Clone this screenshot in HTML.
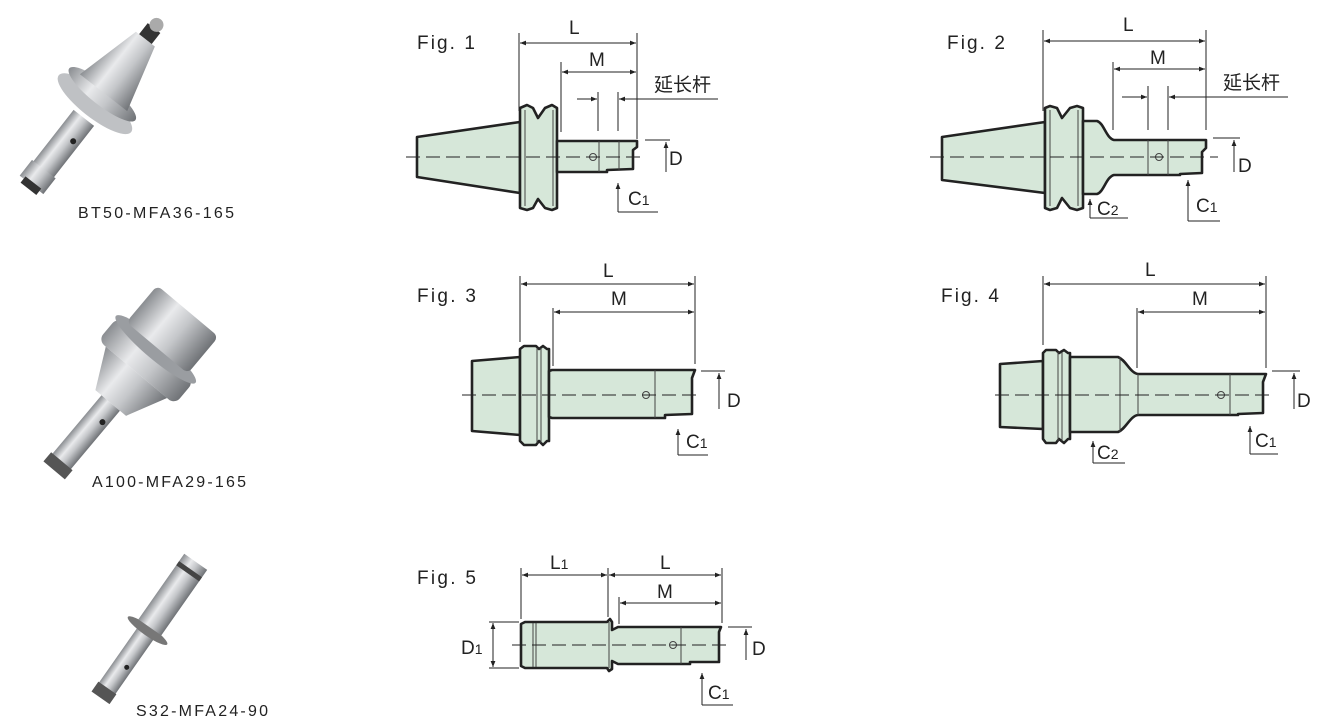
<!DOCTYPE html>
<html><head><meta charset="utf-8"><style>
html,body{margin:0;padding:0;background:#fff;}
svg{display:block;}
text{font-family:"Liberation Sans","Noto Sans CJK SC",sans-serif;fill:#222;}
</style></head><body>
<svg width="1318" height="722" viewBox="0 0 1318 722" xmlns="http://www.w3.org/2000/svg">
<defs>
<marker id="a" viewBox="0 0 10 10" refX="10" refY="5" markerWidth="9" markerHeight="6" orient="auto-start-reverse" markerUnits="userSpaceOnUse"><path d="M0,1 L10,5 L0,9 Z" fill="#222"/></marker>
<linearGradient id="m" x1="0" y1="0" x2="0" y2="1"><stop offset="0" stop-color="#8a8d91"/><stop offset=".35" stop-color="#e9eaec"/><stop offset=".6" stop-color="#c4c6c9"/><stop offset="1" stop-color="#6f7276"/></linearGradient>
</defs>
<g stroke="none">
<!-- photo 1 -->
<g transform="rotate(-52 90 110)">
<rect x="10" y="97" width="70" height="26" fill="url(#m)"/>
<rect x="-5" y="95" width="20" height="30" fill="url(#m)"/>
<rect x="-10" y="100" width="8" height="20" fill="#333"/>
<ellipse cx="98" cy="110" rx="14" ry="46" fill="#bfc1c4"/>
<ellipse cx="110" cy="110" rx="11" ry="42" fill="url(#m)"/>
<polygon points="112,80 180,98 180,122 112,140" fill="url(#m)"/>
<rect x="180" y="102" width="14" height="16" fill="#333"/>
<circle cx="198" cy="110" r="7" fill="#aaa"/>
<circle cx="55" cy="116" r="3" fill="#222"/>
</g>
<!-- photo 2 -->
<g transform="rotate(-50 130 380)">
<rect x="20" y="368" width="80" height="24" fill="url(#m)"/>
<rect x="12" y="366" width="12" height="28" fill="#555"/>
<polygon points="100,360 140,340 140,420 100,400" fill="url(#m)"/>
<rect x="140" y="330" width="30" height="100" rx="8" fill="url(#m)"/>
<ellipse cx="170" cy="380" rx="10" ry="52" fill="#9a9da1"/>
<rect x="172" y="340" width="48" height="80" rx="6" fill="url(#m)"/>
<circle cx="80" cy="386" r="3" fill="#222"/>
</g>
<!-- photo 3 -->
<g transform="rotate(-55 155 620)">
<rect x="70" y="610" width="70" height="20" fill="url(#m)"/>
<rect x="60" y="609" width="12" height="22" fill="#555"/>
<ellipse cx="142" cy="620" rx="5" ry="24" fill="#777"/>
<rect x="146" y="606" width="80" height="28" fill="url(#m)"/>
<rect x="212" y="606" width="5" height="28" fill="#444"/>
<circle cx="100" cy="624" r="2.5" fill="#222"/>
</g>
</g>
<g font-size="16">
<text x="78" y="218" textLength="156" lengthAdjust="spacing">BT50-MFA36-165</text>
<text x="92" y="487" textLength="154" lengthAdjust="spacing">A100-MFA29-165</text>
<text x="136" y="716" textLength="132" lengthAdjust="spacing">S32-MFA24-90</text>
</g>

<g fill="#d6e7d9" stroke="#222" stroke-width="2.6" stroke-linejoin="round">
<!-- Fig1 -->
<path d="M417,137 L520,122 L520,193 L417,177 Z"/>
<path d="M520,108 L527,105 L533,108 L538,118 L545,108 L552,105 L557,108 L557,208 L552,210 L545,208 L538,199 L533,208 L527,210 L520,208 Z"/>
<path d="M557,141 L637,141 L637,147 L633,150 L633,169 L607,170 L607,172 L557,172 Z"/>
<!-- Fig2 -->
<path d="M942,137 L1045,122 L1045,193 L942,180 Z"/>
<path d="M1045,108 L1050,106 L1057,108 L1062,118 L1070,108 L1077,106 L1083,108 L1083,208 L1077,210 L1070,208 L1062,198 L1057,208 L1050,210 L1045,208 Z"/>
<path d="M1083,121 L1097,121 C1104,123 1106,138 1114,140 L1206,140 L1206,148 L1202,152 L1202,173 L1180,174 L1180,175 L1114,175 C1106,177 1104,192 1097,194 L1083,194 Z"/>
<!-- Fig3 -->
<path d="M472,361 L520,357 L520,435 L472,431 Z"/>
<path d="M520,349 L524,346 L536,346 L539,349 L543,346 L547,349 L549,349 L549,441 L547,441 L543,445 L539,441 L536,445 L524,445 L520,441 Z"/>
<path d="M549,371 L552,370 L695,370 L692,378 L692,414 L665,415 L665,418 L552,418 L549,417 Z"/>
<!-- Fig4 -->
<path d="M1000,364 L1043,361 L1043,429 L1000,427 Z"/>
<path d="M1043,353 L1046,350 L1056,350 L1059,353 L1064,350 L1068,353 L1070,353 L1070,439 L1068,439 L1064,443 L1059,439 L1056,443 L1046,443 L1043,439 Z"/>
<path d="M1070,357 L1118,357 C1126,360 1130,373 1138,374 L1266,374 L1263,382 L1263,413 L1238,414 L1238,415 L1138,415 C1130,416 1126,429 1118,432 L1070,432 Z"/>
<!-- Fig5 -->
<path d="M521,624 L525,622 L607,622 L610,619 L612,622 L612,630 L618,627 L721,627 L719,632 L719,662 L690,662 L690,664 L618,664 L612,661 L612,669 L609,671 L607,668 L525,668 L521,666 Z"/>
</g>

<!-- inner lines -->
<g stroke="#444" stroke-width="1" fill="none">
<line x1="525" y1="110" x2="525" y2="206"/><line x1="553" y1="110" x2="553" y2="206"/>
<line x1="599" y1="141" x2="599" y2="172"/><line x1="619" y1="141" x2="619" y2="170"/>
<line x1="1050" y1="110" x2="1050" y2="206"/><line x1="1078" y1="110" x2="1078" y2="206"/>
<line x1="1148" y1="140" x2="1148" y2="175"/><line x1="1168" y1="140" x2="1168" y2="175"/>
<line x1="537" y1="348" x2="537" y2="443"/><line x1="541" y1="348" x2="541" y2="443"/><line x1="655" y1="370" x2="655" y2="418"/>
<line x1="1058" y1="352" x2="1058" y2="441"/><line x1="1062" y1="352" x2="1062" y2="441"/><line x1="1120" y1="357" x2="1120" y2="432"/><line x1="1138" y1="374" x2="1138" y2="415"/><line x1="1230" y1="374" x2="1230" y2="415"/>
<line x1="533" y1="623" x2="533" y2="667"/><line x1="536" y1="623" x2="536" y2="667"/><line x1="609" y1="622" x2="609" y2="668"/><line x1="681" y1="627" x2="681" y2="664"/>
<circle cx="593" cy="157" r="3.5"/><line x1="589" y1="157" x2="597" y2="157"/>
<circle cx="1159" cy="157" r="3.5"/><line x1="1155" y1="157" x2="1163" y2="157"/>
<circle cx="646" cy="395" r="3.5"/><line x1="642" y1="395" x2="650" y2="395"/>
<circle cx="1221" cy="395" r="3.5"/><line x1="1217" y1="395" x2="1225" y2="395"/>
<circle cx="673" cy="645" r="3.5"/><line x1="669" y1="645" x2="677" y2="645"/>
</g>

<!-- centerlines -->
<g stroke="#222" stroke-width="1" stroke-dasharray="14,6" fill="none">
<line x1="406" y1="157" x2="645" y2="157"/>
<line x1="930" y1="157" x2="1218" y2="157"/>
<line x1="462" y1="395" x2="700" y2="395"/>
<line x1="995" y1="395" x2="1272" y2="395"/>
<line x1="512" y1="645" x2="728" y2="645"/>
</g>

<!-- dimension lines -->
<g stroke="#222" stroke-width="1" fill="none">
<line x1="519" y1="33" x2="519" y2="111"/><line x1="637" y1="33" x2="637" y2="139"/><line x1="561" y1="62" x2="561" y2="132"/>
<line x1="598" y1="92" x2="598" y2="131"/><line x1="618" y1="92" x2="618" y2="131"/>
<line x1="520" y1="43" x2="636" y2="43" marker-start="url(#a)" marker-end="url(#a)"/>
<line x1="562" y1="72" x2="636" y2="72" marker-start="url(#a)" marker-end="url(#a)"/>
<line x1="577" y1="99" x2="597" y2="99" marker-end="url(#a)"/><line x1="718" y1="99" x2="619" y2="99" marker-end="url(#a)"/>
<line x1="645" y1="140" x2="670" y2="140"/><line x1="666" y1="172" x2="666" y2="142" marker-end="url(#a)"/>
<line x1="618" y1="212" x2="618" y2="183" marker-end="url(#a)"/><line x1="618" y1="212" x2="658" y2="212"/>
<line x1="1043" y1="30" x2="1043" y2="111"/><line x1="1206" y1="30" x2="1206" y2="130"/><line x1="1113" y1="62" x2="1113" y2="130"/>
<line x1="1148" y1="86" x2="1148" y2="130"/><line x1="1168" y1="86" x2="1168" y2="130"/>
<line x1="1044" y1="41" x2="1205" y2="41" marker-start="url(#a)" marker-end="url(#a)"/>
<line x1="1114" y1="69" x2="1205" y2="69" marker-start="url(#a)" marker-end="url(#a)"/>
<line x1="1122" y1="97" x2="1147" y2="97" marker-end="url(#a)"/><line x1="1288" y1="97" x2="1169" y2="97" marker-end="url(#a)"/>
<line x1="1213" y1="138" x2="1240" y2="138"/><line x1="1234" y1="172" x2="1234" y2="140" marker-end="url(#a)"/>
<line x1="1090" y1="218" x2="1090" y2="199" marker-end="url(#a)"/><line x1="1090" y1="218" x2="1128" y2="218"/>
<line x1="1188" y1="221" x2="1188" y2="180" marker-end="url(#a)"/><line x1="1188" y1="221" x2="1220" y2="221"/>
<line x1="520" y1="276" x2="520" y2="342"/><line x1="695" y1="276" x2="695" y2="364"/><line x1="553" y1="308" x2="553" y2="366"/>
<line x1="521" y1="284" x2="694" y2="284" marker-start="url(#a)" marker-end="url(#a)"/>
<line x1="554" y1="312" x2="694" y2="312" marker-start="url(#a)" marker-end="url(#a)"/>
<line x1="701" y1="371" x2="725" y2="371"/><line x1="719" y1="409" x2="719" y2="373" marker-end="url(#a)"/>
<line x1="678" y1="455" x2="678" y2="429" marker-end="url(#a)"/><line x1="678" y1="455" x2="708" y2="455"/>
<line x1="1043" y1="276" x2="1043" y2="345"/><line x1="1266" y1="276" x2="1266" y2="368"/><line x1="1137" y1="308" x2="1137" y2="368"/>
<line x1="1044" y1="284" x2="1265" y2="284" marker-start="url(#a)" marker-end="url(#a)"/>
<line x1="1138" y1="312" x2="1265" y2="312" marker-start="url(#a)" marker-end="url(#a)"/>
<line x1="1272" y1="371" x2="1300" y2="371"/><line x1="1294" y1="409" x2="1294" y2="373" marker-end="url(#a)"/>
<line x1="1093" y1="463" x2="1093" y2="441" marker-end="url(#a)"/><line x1="1093" y1="463" x2="1125" y2="463"/>
<line x1="1250" y1="454" x2="1250" y2="426" marker-end="url(#a)"/><line x1="1250" y1="454" x2="1278" y2="454"/>
<line x1="521" y1="568" x2="521" y2="619"/><line x1="608" y1="568" x2="608" y2="617"/><line x1="722" y1="568" x2="722" y2="623"/><line x1="619" y1="597" x2="619" y2="624"/>
<line x1="522" y1="575" x2="607" y2="575" marker-start="url(#a)" marker-end="url(#a)"/>
<line x1="609" y1="575" x2="721" y2="575" marker-start="url(#a)" marker-end="url(#a)"/>
<line x1="620" y1="603" x2="721" y2="603" marker-start="url(#a)" marker-end="url(#a)"/>
<line x1="489" y1="622" x2="519" y2="622"/><line x1="489" y1="668" x2="519" y2="668"/>
<line x1="493" y1="623" x2="493" y2="667" marker-start="url(#a)" marker-end="url(#a)"/>
<line x1="728" y1="627" x2="752" y2="627"/><line x1="746" y1="660" x2="746" y2="629" marker-end="url(#a)"/>
<line x1="702" y1="705" x2="702" y2="673" marker-end="url(#a)"/><line x1="702" y1="705" x2="733" y2="705"/>
</g>

<!-- labels -->
<g font-size="19">
<text x="417" y="49" textLength="58" lengthAdjust="spacing">Fig. 1</text>
<text x="947" y="49" textLength="58" lengthAdjust="spacing">Fig. 2</text>
<text x="417" y="302" textLength="59" lengthAdjust="spacing">Fig. 3</text>
<text x="941" y="302" textLength="58" lengthAdjust="spacing">Fig. 4</text>
<text x="417" y="584" textLength="59" lengthAdjust="spacing">Fig. 5</text>
<text x="569" y="34">L</text><text x="589" y="66">M</text>
<text x="654" y="91">延长杆</text>
<text x="669" y="165">D</text>
<text x="628" y="205">C<tspan font-size="14">1</tspan></text>
<text x="1123" y="31">L</text><text x="1150" y="64">M</text>
<text x="1223" y="89">延长杆</text>
<text x="1238" y="172">D</text>
<text x="1097" y="215">C<tspan font-size="14">2</tspan></text>
<text x="1196" y="212">C<tspan font-size="14">1</tspan></text>
<text x="603" y="277">L</text><text x="611" y="305">M</text>
<text x="727" y="407">D</text>
<text x="686" y="448">C<tspan font-size="14">1</tspan></text>
<text x="1145" y="276">L</text><text x="1192" y="305">M</text>
<text x="1297" y="407">D</text>
<text x="1097" y="459">C<tspan font-size="14">2</tspan></text>
<text x="1255" y="447">C<tspan font-size="14">1</tspan></text>
<text x="550" y="569">L<tspan font-size="14">1</tspan></text>
<text x="660" y="569">L</text><text x="657" y="598">M</text>
<text x="461" y="654">D<tspan font-size="14">1</tspan></text>
<text x="752" y="655">D</text>
<text x="708" y="699">C<tspan font-size="14">1</tspan></text>
</g>
</svg>
</body></html>
